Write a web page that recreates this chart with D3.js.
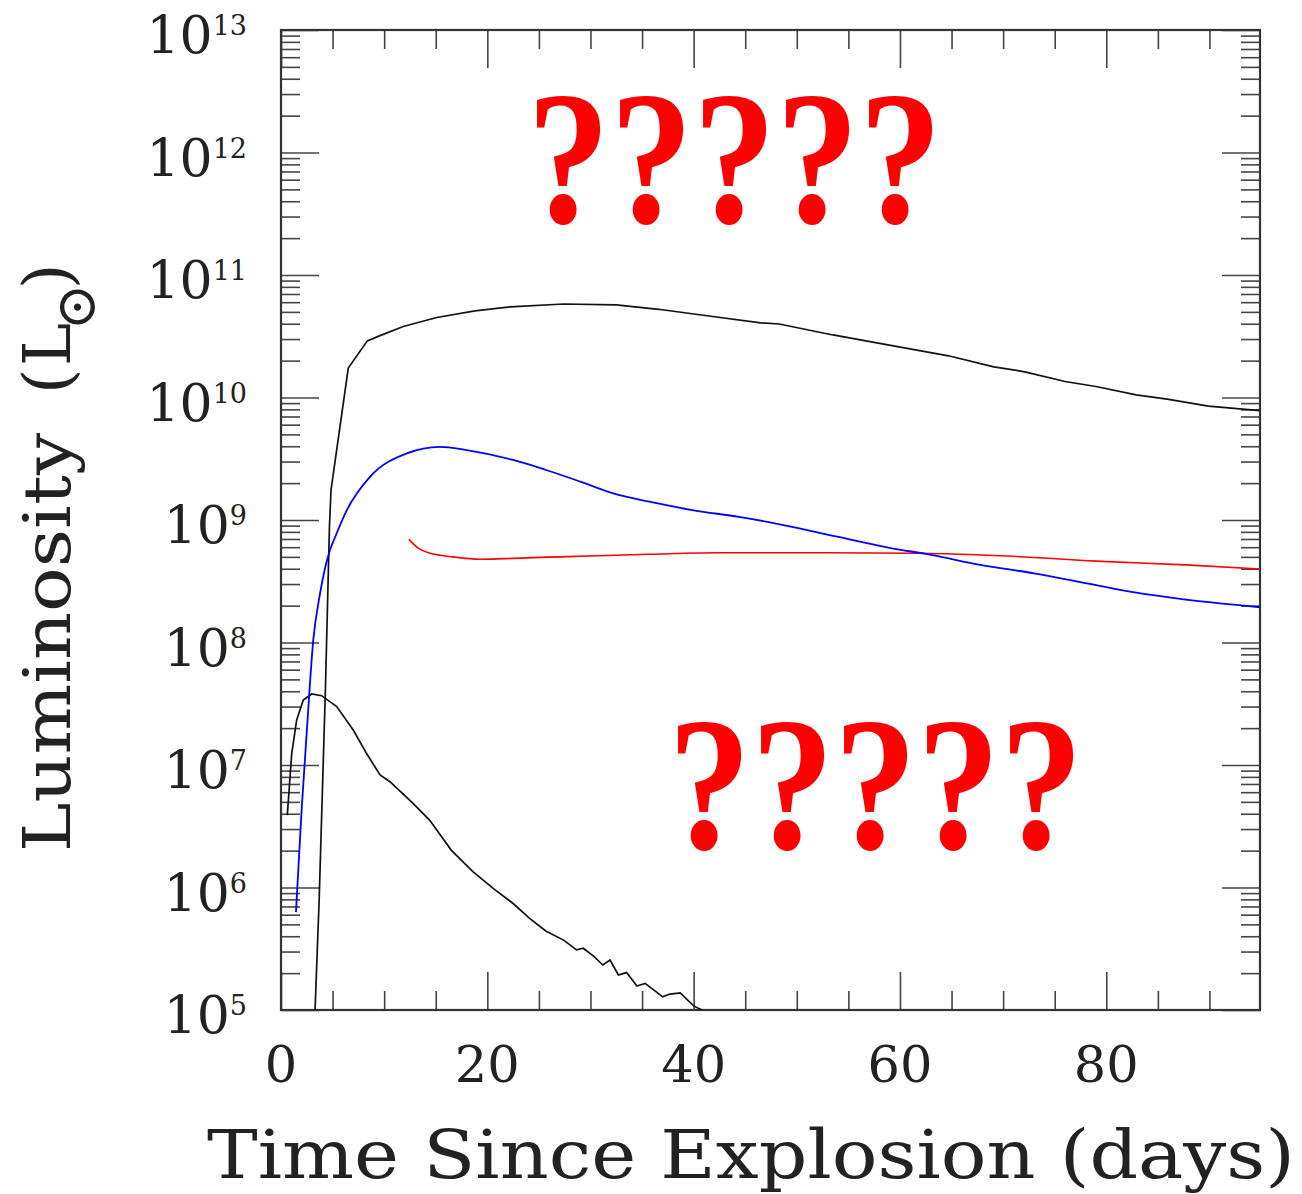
<!DOCTYPE html>
<html>
<head>
<meta charset="utf-8">
<script src="https://cdn.jsdelivr.net/npm/d3@7"></script>
<style>
  body { margin: 0; background: #fff; }
  svg { display: block; }
</style>
</head>
<body>
<div id="chart"></div>
<script>
// values: [days, L / Lsun]
var brightCurve = [
  [3.1, 3.5e4], [3.7, 8e5], [4.3, 4e7], [4.7, 9e8], [4.85, 1.76e9], [6.52, 1.74e10],
  [8.37, 2.9e10], [9.6, 3.2e10], [11.85, 3.8e10], [15.1, 4.5e10], [18.8, 5.1e10],
  [22.2, 5.5e10], [27.4, 5.8e10], [32.5, 5.7e10], [36.6, 5.25e10], [41.3, 4.65e10],
  [46.5, 4.07e10], [48.3, 3.98e10], [53.5, 3.24e10], [59.5, 2.63e10], [64.7, 2.19e10],
  [69.1, 1.78e10], [72.1, 1.62e10], [76.0, 1.35e10], [79.0, 1.23e10], [82.9, 1.05e10],
  [85.9, 9.7e9], [89.9, 8.5e9], [94.9, 7.8e9]
];
var faintCurve = [
  [0.61, 3.9e6], [1.04, 1.24e7], [1.52, 2.33e7], [2.16, 3.39e7], [2.97, 3.8e7],
  [3.94, 3.68e7], [5.4, 3.0e7], [7.0, 1.93e7], [8.3, 1.24e7], [9.6, 8.3e6],
  [10.56, 7.3e6], [12.8, 4.86e6], [14.4, 3.55e6], [16.5, 2.02e6], [18.6, 1.35e6],
  [20.6, 9.8e5], [22.5, 7.4e5], [24.1, 5.6e5], [25.7, 4.4e5], [27.4, 3.72e5],
  [28.65, 3.1e5], [29.3, 3.19e5], [30.3, 2.75e5], [31.2, 2.33e5], [31.9, 2.56e5],
  [32.7, 1.93e5], [33.5, 2.02e5], [34.5, 1.57e5], [35.3, 1.65e5], [37.0, 1.28e5],
  [37.7, 1.35e5], [38.7, 1.38e5], [40.0, 1.08e5], [40.8, 1.0e5], [41.5, 9e4]
];
var blueCurve = [
  [1.45, 6.3e5], [2.0, 4.3e6], [2.49, 1.82e7], [3.13, 1.05e8], [3.78, 2.5e8],
  [4.75, 5.7e8], [5.14, 6.9e8], [6.37, 1.2e9], [8.6, 2.24e9], [12.2, 3.5e9],
  [15.4, 3.96e9], [18.0, 3.72e9], [22.5, 3.09e9], [25.7, 2.56e9], [29.0, 2.06e9],
  [32.2, 1.65e9], [35.7, 1.41e9], [40.0, 1.2e9], [44.4, 1.06e9], [48.7, 9.1e8],
  [53.9, 7.3e8], [59.1, 5.9e8], [63.0, 5.2e8], [67.8, 4.3e8], [73.0, 3.67e8],
  [79.5, 2.88e8], [82.9, 2.55e8], [86.8, 2.29e8], [94.9, 1.94e8]
];
var redCurve = [
  [12.4, 6.95e8], [13.3, 5.9e8], [14.3, 5.4e8], [16.7, 5.0e8], [19.3, 4.78e8],
  [22.5, 4.86e8], [25.1, 4.95e8], [27.0, 5.0e8], [35.7, 5.25e8], [42.2, 5.4e8],
  [53.0, 5.4e8], [61.7, 5.35e8], [70.4, 5.08e8], [79.0, 4.62e8], [87.7, 4.3e8],
  [94.9, 3.98e8]
];

var xMajor = [0, 20, 40, 60, 80];
var xMinor = [5, 10, 15, 25, 30, 35, 45, 50, 55, 65, 70, 75, 85, 90];
var yExponents = [5, 6, 7, 8, 9, 10, 11, 12, 13];
var marks = "?????";

(function() {
var W = 1302, H = 1194;
var x0 = 281, x1 = 1260, y0 = 30, y1 = 1010;

var svg = d3.select('#chart').append('svg')
  .attr('width', W).attr('height', H);

var x = d3.scaleLinear().domain([0, 94.9]).range([x0, x1]);
var y = d3.scaleLog().domain([1e5, 1e13]).range([y1, y0]);

var yMajor = yExponents.map(function(e) { return Math.pow(10, e); });
var yMinor = [];
yExponents.slice(0, -1).forEach(function(e) {
  for (var k = 2; k <= 9; k++) yMinor.push(k * Math.pow(10, e));
});

svg.append('clipPath').attr('id', 'clip')
  .append('rect').attr('x', x0).attr('y', y0)
  .attr('width', x1 - x0).attr('height', y1 - y0);

// ticks on all four sides, pointing inwards
function ticks(axis, vals, len, tx) {
  var g = svg.append('g').attr('transform', tx)
    .call(axis.tickValues(vals).tickSize(len).tickFormat(''));
  g.select('.domain').remove();
  g.selectAll('line').attr('stroke', '#444').attr('stroke-width', 1.6);
}
ticks(d3.axisBottom(x), xMajor, -38, 'translate(0,' + y1 + ')');
ticks(d3.axisBottom(x), xMinor, -19, 'translate(0,' + y1 + ')');
ticks(d3.axisTop(x), xMajor, -38, 'translate(0,' + y0 + ')');
ticks(d3.axisTop(x), xMinor, -19, 'translate(0,' + y0 + ')');
ticks(d3.axisLeft(y), yMajor, -38, 'translate(' + x0 + ',0)');
ticks(d3.axisLeft(y), yMinor, -19, 'translate(' + x0 + ',0)');
ticks(d3.axisRight(y), yMajor, -38, 'translate(' + x1 + ',0)');
ticks(d3.axisRight(y), yMinor, -19, 'translate(' + x1 + ',0)');

svg.append('rect')
  .attr('x', x0).attr('y', y0)
  .attr('width', x1 - x0).attr('height', y1 - y0)
  .attr('fill', 'none').attr('stroke', '#333').attr('stroke-width', 2.2);

var font = "'DejaVu Serif', serif";

// tick labels
svg.append('g').selectAll('text')
  .data(xMajor).enter().append('text')
  .attr('x', function(d) { return x(d); })
  .attr('y', 1082)
  .attr('text-anchor', 'middle')
  .attr('font-family', font).attr('font-size', 51).attr('fill', '#222')
  .text(function(d) { return d; });

var yl = svg.append('g').selectAll('text')
  .data(yExponents).enter().append('text')
  .attr('x', 247)
  .attr('y', function(d) { return y(Math.pow(10, d)) + 23; })
  .attr('text-anchor', 'end')
  .attr('font-family', font).attr('fill', '#222');
yl.append('tspan').attr('font-size', 52).text('10');
yl.append('tspan').attr('font-size', 27).attr('dy', -18)
  .text(function(d) { return d; });

// axis titles
svg.append('text')
  .attr('x', 207).attr('y', 1178)
  .attr('font-family', font).attr('font-size', 68).attr('fill', '#222')
  .attr('textLength', 1088).attr('lengthAdjust', 'spacingAndGlyphs')
  .text('Time Since Explosion (days)');

// rotated y title, placed piece by piece along the text direction
var yt = svg.append('g')
  .attr('transform', 'translate(70,852) rotate(-90)')
  .attr('font-family', font).attr('font-size', 65).attr('fill', '#222');
yt.append('text').attr('x', 0).attr('y', 0)
  .attr('textLength', 419).attr('lengthAdjust', 'spacingAndGlyphs')
  .text('Luminosity');
yt.append('text').attr('x', 458).attr('y', 0).text('(');
yt.append('text').attr('x', 486).attr('y', 0).text('L');
yt.append('text').attr('x', 545).attr('y', 25)
  .attr('text-anchor', 'middle').attr('font-size', 56).text('\u2299');
yt.append('text').attr('x', 563).attr('y', 0).text(')');

// curves
var line = d3.line()
  .x(function(d) { return x(d[0]); })
  .y(function(d) { return y(d[1]); });
var smooth = d3.line()
  .x(function(d) { return x(d[0]); })
  .y(function(d) { return y(d[1]); })
  .curve(d3.curveMonotoneX);

var plot = svg.append('g').attr('clip-path', 'url(#clip)');
plot.append('path').datum(faintCurve).attr('d', line)
  .attr('fill', 'none').attr('stroke', '#111').attr('stroke-width', 1.7);
plot.append('path').datum(brightCurve).attr('d', line)
  .attr('fill', 'none').attr('stroke', '#111').attr('stroke-width', 1.7);
plot.append('path').datum(redCurve).attr('d', smooth)
  .attr('fill', 'none').attr('stroke', '#ff0000').attr('stroke-width', 1.6);
plot.append('path').datum(blueCurve).attr('d', smooth)
  .attr('fill', 'none').attr('stroke', '#0000ff').attr('stroke-width', 1.8);

// red question marks
[[527, 222], [668, 848]].forEach(function(p) {
  svg.append('text')
    .attr('x', p[0]).attr('y', p[1])
    .attr('font-family', "'Liberation Serif', serif")
    .attr('font-weight', 'bold')
    .attr('font-size', 190).attr('fill', '#ff0000')
    .attr('textLength', 415).attr('lengthAdjust', 'spacingAndGlyphs')
    .text(marks);
});
})();
</script>
</body>
</html>
